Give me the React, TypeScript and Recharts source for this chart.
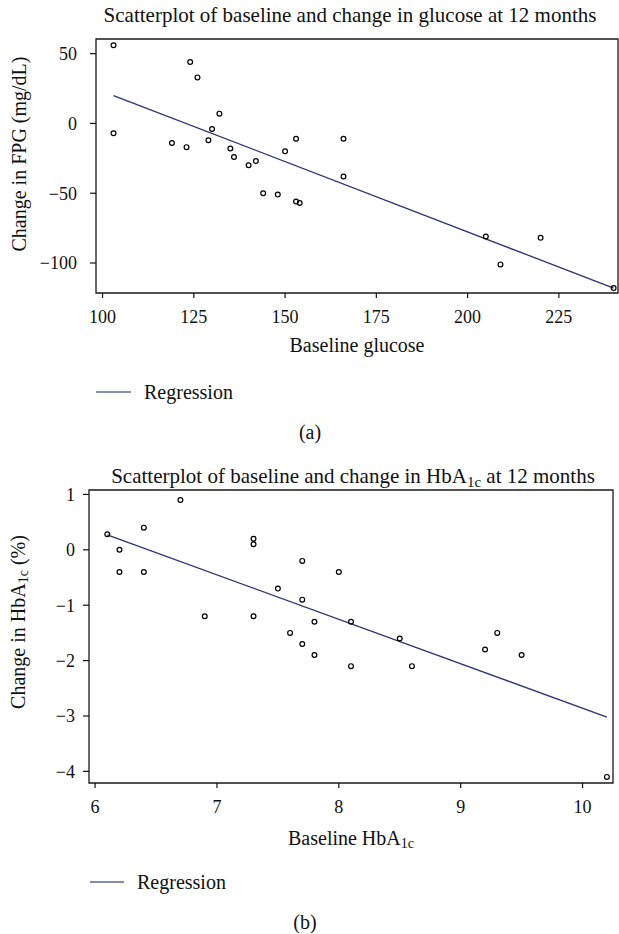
import React from "react";
import {
  ScatterChart,
  Scatter,
  XAxis,
  YAxis,
  ReferenceLine,
  ReferenceArea,
  Label,
} from "recharts";

const serif = '"Liberation Serif", "Times New Roman", serif';
const ink = "#111";
const navy = "#26336f";

// (a) baseline glucose vs change in FPG
const glucoseBaseline = [
  103, 103, 124, 126, 132, 130, 119, 123, 129, 135, 136, 140, 142, 150, 153,
  166, 166, 144, 148, 153, 154, 205, 220, 209, 240,
];
const glucoseChange = [
  56, -7, 44, 33, 7, -4, -14, -17, -12, -18, -24, -30, -27, -20, -11, -11, -38,
  -50, -51, -56, -57, -81, -82, -101, -118,
];
const glucoseFit = [
  { x: 103, y: 20 },
  { x: 240, y: -118 },
];
const glucoseXTicks = [100, 125, 150, 175, 200, 225];
const glucoseYTicks = [50, 0, -50, -100];

// (b) baseline HbA1c vs change in HbA1c
const hba1cBaseline = [
  6.1, 6.7, 6.4, 6.2, 6.2, 6.4, 6.9, 7.3, 7.3, 7.3, 7.7, 7.5, 7.7, 7.8, 7.6,
  7.7, 7.8, 8.0, 8.1, 8.1, 8.5, 8.6, 9.3, 9.2, 9.5, 10.2,
];
const hba1cChange = [
  0.28, 0.9, 0.4, 0, -0.4, -0.4, -1.2, 0.2, 0.1, -1.2, -0.2, -0.7, -0.9, -1.3,
  -1.5, -1.7, -1.9, -0.4, -1.3, -2.1, -1.6, -2.1, -1.5, -1.8, -1.9, -4.1,
];
const hba1cFit = [
  { x: 6.1, y: 0.27 },
  { x: 10.2, y: -3.02 },
];
const hba1cXTicks = [6, 7, 8, 9, 10];
const hba1cYTicks = [1, 0, -1, -2, -3, -4];

const toPoints = (xs: number[], ys: number[]) =>
  xs.map((x, i) => ({ x, y: ys[i] }));

const fmt = (v: number) => (v < 0 ? `\u2212${Math.abs(v)}` : `${v}`);

const ring = (props: any) => (
  <circle
    cx={props.cx}
    cy={props.cy}
    r={2.4}
    fill="none"
    stroke="#000"
    strokeWidth={1.2}
  />
);

const tickStyle = { fill: ink, fontSize: 18, fontFamily: serif };

interface PanelProps {
  top: number;
  height: number;
  margin: { top: number; right: number; left: number; bottom: number };
  points: { x: number; y: number }[];
  fit: { x: number; y: number }[];
  xDomain: [number, number];
  yDomain: [number, number];
  xTicks: number[];
  yTicks: number[];
  yTickMargin: number;
  xLabel: React.ReactNode;
  xLabelAt: [number, number];
  yLabel: React.ReactNode;
  yLabelAt: [number, number];
}

function Panel({
  top,
  height,
  margin,
  points,
  fit,
  xDomain,
  yDomain,
  xTicks,
  yTicks,
  yTickMargin,
  xLabel,
  xLabelAt,
  yLabel,
  yLabelAt,
}: PanelProps) {
  return (
    <div style={{ position: "absolute", left: 0, top }}>
      <ScatterChart width={619} height={height} margin={margin}>
        <XAxis
          type="number"
          dataKey="x"
          domain={xDomain}
          ticks={xTicks}
          allowDataOverflow
          axisLine={false}
          tickLine={{ stroke: ink, strokeWidth: 1.2 }}
          tickSize={5}
          tickMargin={12}
          height={30}
          tick={tickStyle}
          tickFormatter={fmt}
        >
          <Label
            content={() => (
              <text
                x={xLabelAt[0]}
                y={xLabelAt[1]}
                textAnchor="middle"
                dominantBaseline="central"
                fontFamily={serif}
                fontSize={20}
                fill={ink}
              >
                {xLabel}
              </text>
            )}
          />
        </XAxis>
        <YAxis
          type="number"
          dataKey="y"
          domain={yDomain}
          ticks={yTicks}
          allowDataOverflow
          axisLine={false}
          tickLine={{ stroke: ink, strokeWidth: 1.2 }}
          tickSize={6}
          tickMargin={yTickMargin}
          width={60}
          tick={tickStyle}
          tickFormatter={fmt}
        >
          <Label
            content={() => (
              <text
                transform={`translate(${yLabelAt[0]},${yLabelAt[1]}) rotate(-90)`}
                textAnchor="middle"
                dominantBaseline="central"
                fontFamily={serif}
                fontSize={20}
                fill={ink}
              >
                {yLabel}
              </text>
            )}
          />
        </YAxis>
        <ReferenceArea
          x1={xDomain[0]}
          x2={xDomain[1]}
          y1={yDomain[0]}
          y2={yDomain[1]}
          fill="none"
          stroke="#1a1a1a"
          strokeWidth={1.3}
          ifOverflow="visible"
        />
        <ReferenceLine
          segment={fit}
          stroke={navy}
          strokeWidth={1.3}
          ifOverflow="visible"
        />
        <Scatter data={points} shape={ring} isAnimationActive={false} />
      </ScatterChart>
    </div>
  );
}

const textBase: React.CSSProperties = {
  position: "absolute",
  fontFamily: serif,
  fontSize: 20,
  color: ink,
  lineHeight: "24px",
  whiteSpace: "nowrap",
};

function Title({
  cx,
  cy,
  size = 20,
  children,
}: {
  cx: number;
  cy: number;
  size?: number;
  children: React.ReactNode;
}) {
  return (
    <div
      style={{
        ...textBase,
        fontSize: size,
        left: cx,
        top: cy - 12,
        transform: "translateX(-50%)",
      }}
    >
      {children}
    </div>
  );
}

function RegressionKey({ x, cy, len }: { x: number; cy: number; len: number }) {
  return (
    <>
      <svg
        width={len}
        height={4}
        style={{ position: "absolute", left: x, top: cy - 2 }}
      >
        <line x1={0} y1={2} x2={len} y2={2} stroke="#5a6894" strokeWidth={1.5} />
      </svg>
      <div style={{ ...textBase, left: x + len + 13, top: cy - 12 }}>Regression</div>
    </>
  );
}

const sub: React.CSSProperties = { fontSize: 15, verticalAlign: "-4px", lineHeight: 0 };

export default function App() {
  return (
    <div
      style={{
        position: "absolute",
        left: 0,
        top: 0,
        width: 619,
        height: 934,
        background: "#fff",
        overflow: "hidden",
      }}
    >
      <Title cx={350} cy={15} size={21}>
        Scatterplot of baseline and change in glucose at 12 months
      </Title>
      <Panel
        top={0}
        height={360}
        margin={{ top: 39, right: 1, left: 36, bottom: 37 }}
        points={toPoints(glucoseBaseline, glucoseChange)}
        fit={glucoseFit}
        xDomain={[98.2, 241.2]}
        yDomain={[-121.5, 60.5]}
        xTicks={glucoseXTicks}
        yTicks={glucoseYTicks}
        yTickMargin={13}
        xLabel="Baseline glucose"
        xLabelAt={[357, 345]}
        yLabel="Change in FPG (mg/dL)"
        yLabelAt={[19, 154]}
      />
      <RegressionKey x={96} cy={392} len={35} />
      <Title cx={310} cy={432}>(a)</Title>

      <Title cx={353} cy={476} size={21}>
        Scatterplot of baseline and change in HbA<span style={sub}>1c</span> at 12 months
      </Title>
      <Panel
        top={450}
        height={400}
        margin={{ top: 40, right: 6, left: 29, bottom: 37 }}
        points={toPoints(hba1cBaseline, hba1cChange)}
        fit={hba1cFit}
        xDomain={[5.95, 10.25]}
        yDomain={[-4.21, 1.08]}
        xTicks={hba1cXTicks}
        yTicks={hba1cYTicks}
        yTickMargin={8}
        xLabel={
          <>
            <tspan>Baseline HbA</tspan>
            <tspan fontSize={14} dy={5}>1c</tspan>
          </>
        }
        xLabelAt={[351, 388]}
        yLabel={
          <>
            <tspan>Change in HbA</tspan>
            <tspan fontSize={14} dy={5}>1c</tspan>
            <tspan dy={-5}> (%)</tspan>
          </>
        }
        yLabelAt={[18, 172]}
      />
      <RegressionKey x={90} cy={882} len={34} />
      <Title cx={305} cy={922}>(b)</Title>
    </div>
  );
}
